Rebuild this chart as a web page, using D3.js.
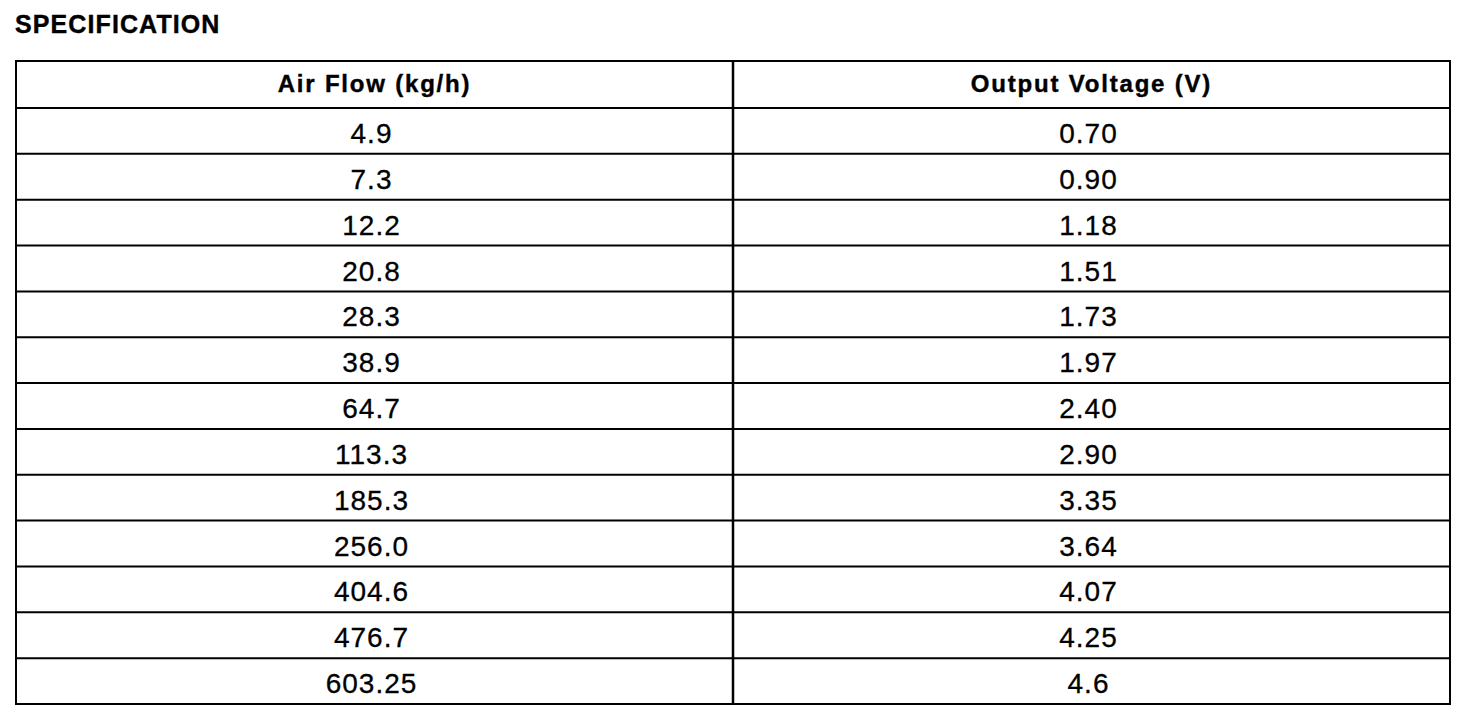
<!DOCTYPE html>
<html>
<head>
<meta charset="utf-8">
<script src="https://cdn.jsdelivr.net/npm/d3@7"></script>
<style>
  html, body { margin: 0; padding: 0; background: #fff; }
  svg { display: block; }
</style>
</head>
<body>
<div id="viz"></div>
<script>
// ========================================
// Data
// ========================================
var title = 'SPECIFICATION';
var headers = ['Air Flow (kg/h)', 'Output Voltage (V)'];
var air_flow = ['4.9', '7.3', '12.2', '20.8', '28.3', '38.9', '64.7', '113.3',
                '185.3', '256.0', '404.6', '476.7', '603.25'];
var output_voltage = ['0.70', '0.90', '1.18', '1.51', '1.73', '1.97', '2.40', '2.90',
                      '3.35', '3.64', '4.07', '4.25', '4.6'];

// ========================================
// Layout
// ========================================
var width = 1472, height = 720;
var table_left = 16, table_right = 1450,
    table_top = 61, header_bottom = 108, table_bottom = 704;
var ink = '#000';
var font = "'Liberation Sans', Arial, Helvetica, sans-serif";

var svg = d3.select('#viz')
   .append('svg')
   .attr('width', width)
   .attr('height', height)
   .style('background-color', '#fff');

// Column scale (two equal columns)
var col = d3.scaleBand()
   .domain(d3.range(headers.length))
   .range([table_left, table_right]);

// Row scale for the data rows
var row = d3.scaleBand()
   .domain(d3.range(air_flow.length))
   .range([header_bottom, table_bottom]);

var rows = air_flow.map((a, i) => [a, output_voltage[i]]);

// Title
svg.append('text')
   .attr('x', 15)
   .attr('y', 33)
   .style('font-family', font)
   .style('font-weight', 'bold')
   .style('font-size', '25px')
   .style('letter-spacing', '1.1px')
   .style('fill', ink)
   .style('stroke', ink)
   .style('stroke-width', 0.4)
   .text(title);

// ========================================
// Grid lines
// ========================================
var grid = svg.append('g').attr('class', 'grid');

// outer frame
grid.append('rect')
   .attr('x', table_left)
   .attr('y', table_top)
   .attr('width', table_right - table_left)
   .attr('height', table_bottom - table_top)
   .style('fill', 'none')
   .style('stroke', ink)
   .style('stroke-width', 2);

// horizontal row separators
grid.selectAll('.hline')
   .data(d3.range(air_flow.length))
   .enter()
   .append('line')
   .attr('class', 'hline')
   .attr('x1', table_left)
   .attr('x2', table_right)
   .attr('y1', d => row(d))
   .attr('y2', d => row(d))
   .style('stroke', ink)
   .style('stroke-width', 2);

// column divider
grid.selectAll('.vline')
   .data(d3.range(1, headers.length))
   .enter()
   .append('line')
   .attr('class', 'vline')
   .attr('x1', d => col(d))
   .attr('x2', d => col(d))
   .attr('y1', table_top)
   .attr('y2', table_bottom)
   .style('stroke', ink)
   .style('stroke-width', 2.5);

// ========================================
// Header and cells
// ========================================
svg.selectAll('.header')
   .data(headers)
   .enter()
   .append('text')
   .attr('class', 'header')
   .attr('x', (d, i) => col(i) + col.bandwidth() / 2)
   .attr('y', table_top + 31)
   .attr('text-anchor', 'middle')
   .style('font-family', font)
   .style('font-weight', 'bold')
   .style('font-size', '24px')
   .style('letter-spacing', '1.8px')
   .style('fill', ink)
   .style('stroke', ink)
   .style('stroke-width', 0.4)
   .text(d => d);

var cell_rows = svg.selectAll('.row')
   .data(rows)
   .enter()
   .append('g')
   .attr('class', 'row')
   .attr('transform', (d, i) => `translate(0, ${row(i)})`);

cell_rows.selectAll('text')
   .data(d => d)
   .enter()
   .append('text')
   .attr('x', (d, i) => col(i) + col.bandwidth() / 2 - 3)
   .attr('y', 35)
   .attr('text-anchor', 'middle')
   .style('font-family', font)
   .style('font-size', '28px')
   .style('letter-spacing', '1px')
   .style('fill', ink)
   .style('stroke', ink)
   .style('stroke-width', 0.3)
   .text(d => d);
</script>
</body>
</html>
